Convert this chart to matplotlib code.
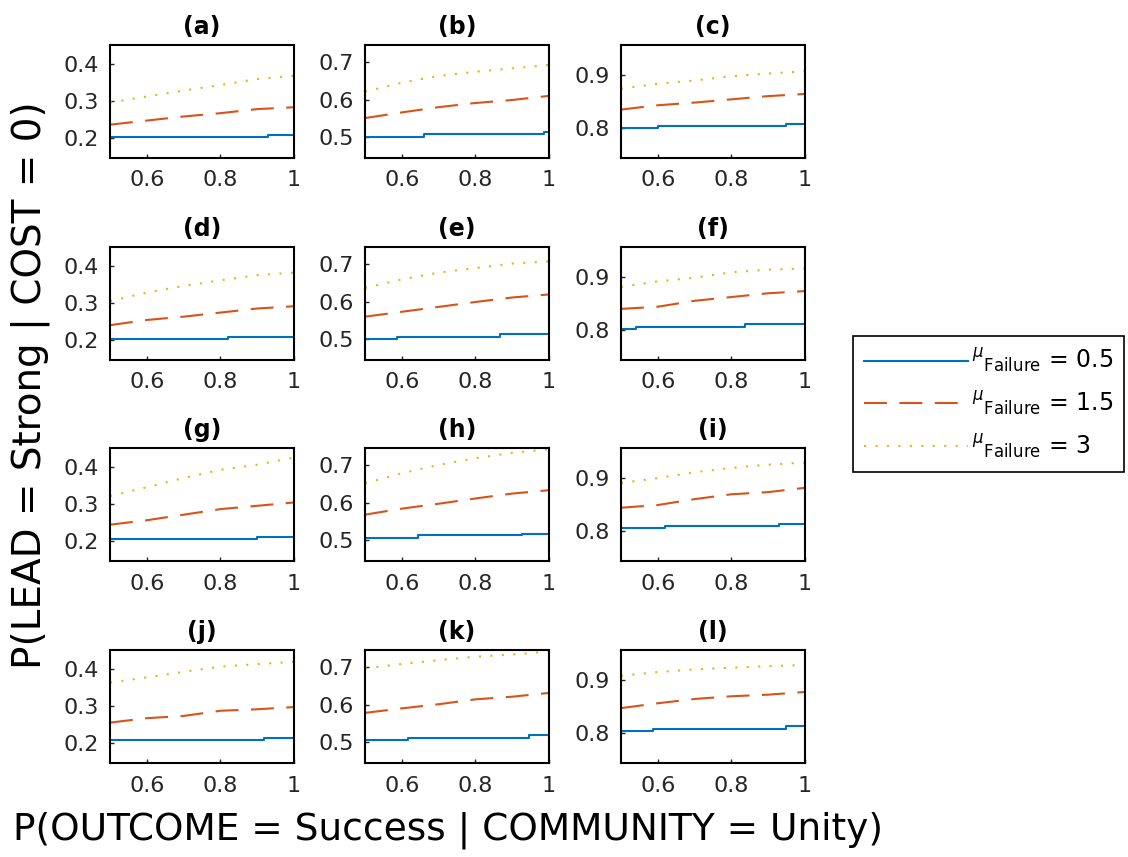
import numpy as np
import matplotlib
matplotlib.use('Agg')
import matplotlib.pyplot as plt

plt.rcParams['font.family'] = 'DejaVu Sans'
plt.rcParams['axes.linewidth'] = 1.5
plt.rcParams['xtick.direction'] = 'in'
plt.rcParams['ytick.direction'] = 'in'
plt.rcParams['xtick.labelsize'] = 16
plt.rcParams['ytick.labelsize'] = 16

panel_titles = ['(a)', '(b)', '(c)', '(d)', '(e)', '(f)',
                '(g)', '(h)', '(i)', '(j)', '(k)', '(l)']

# x grid for the failure=1.5 and failure=3 curves
x_pts = [0.5, 0.6, 0.7, 0.8, 0.9, 1.0]

# mu_failure = 0.5 : step curves (x where level changes, level)
blue_x = [
    [0.5, 0.93, 1.0], [0.5, 0.66, 0.986, 1.0], [0.5, 0.60, 0.948, 1.0],
    [0.5, 0.82, 1.0], [0.5, 0.586, 0.868, 1.0], [0.5, 0.541, 0.837, 1.0],
    [0.5, 0.90, 1.0], [0.5, 0.645, 0.927, 1.0], [0.5, 0.62, 0.928, 1.0],
    [0.5, 0.918, 1.0], [0.5, 0.618, 0.945, 1.0], [0.5, 0.588, 0.948, 1.0],
]
blue_y = [
    [0.202, 0.208, 0.208], [0.502, 0.508, 0.515, 0.515], [0.801, 0.805, 0.809, 0.809],
    [0.202, 0.207, 0.207], [0.502, 0.507, 0.513, 0.513], [0.803, 0.806, 0.811, 0.811],
    [0.205, 0.211, 0.211], [0.507, 0.513, 0.518, 0.518], [0.806, 0.810, 0.814, 0.814],
    [0.206, 0.213, 0.213], [0.505, 0.512, 0.519, 0.519], [0.805, 0.809, 0.813, 0.813],
]

# mu_failure = 1.5
red_y = [
    [0.235, 0.246, 0.257, 0.266, 0.277, 0.282],
    [0.551, 0.566, 0.580, 0.591, 0.599, 0.610],
    [0.835, 0.843, 0.848, 0.854, 0.860, 0.864],
    [0.239, 0.253, 0.262, 0.273, 0.284, 0.290],
    [0.560, 0.573, 0.586, 0.599, 0.611, 0.619],
    [0.840, 0.844, 0.855, 0.862, 0.869, 0.873],
    [0.243, 0.255, 0.270, 0.285, 0.294, 0.303],
    [0.568, 0.584, 0.597, 0.611, 0.624, 0.633],
    [0.844, 0.849, 0.860, 0.869, 0.873, 0.881],
    [0.254, 0.266, 0.272, 0.286, 0.290, 0.296],
    [0.578, 0.590, 0.601, 0.614, 0.621, 0.631],
    [0.847, 0.856, 0.864, 0.869, 0.872, 0.877],
]

# mu_failure = 3
yel_y = [
    [0.295, 0.311, 0.327, 0.342, 0.358, 0.367],
    [0.621, 0.645, 0.663, 0.674, 0.683, 0.692],
    [0.874, 0.883, 0.889, 0.897, 0.902, 0.906],
    [0.304, 0.327, 0.345, 0.360, 0.374, 0.381],
    [0.636, 0.659, 0.677, 0.689, 0.701, 0.707],
    [0.881, 0.891, 0.898, 0.908, 0.913, 0.915],
    [0.320, 0.344, 0.369, 0.391, 0.405, 0.424],
    [0.651, 0.678, 0.700, 0.718, 0.732, 0.742],
    [0.890, 0.899, 0.910, 0.918, 0.924, 0.928],
    [0.362, 0.376, 0.391, 0.405, 0.412, 0.418],
    [0.696, 0.708, 0.718, 0.727, 0.733, 0.741],
    [0.907, 0.914, 0.919, 0.922, 0.925, 0.927],
]

col_ylim = [(0.145, 0.45), (0.445, 0.745), (0.745, 0.955)]
col_yticks = [[0.2, 0.3, 0.4], [0.5, 0.6, 0.7], [0.8, 0.9]]

c_blue = '#0072BD'
c_red = '#D95319'
c_yel = '#EDB120'

W, H = 1128, 857
fig = plt.figure(figsize=(W / 100, H / 100), dpi=100)

lefts = [110, 365, 621]
tops = [45, 247, 448, 650]
aw, ah = 184, 113

handles = None
for i in range(12):
    r, c = divmod(i, 3)
    ax = fig.add_axes([lefts[c] / W, 1 - (tops[r] + ah) / H, aw / W, ah / H])
    h1, = ax.step(blue_x[i], blue_y[i], where='post', color=c_blue, lw=1.5)
    h2, = ax.plot(x_pts, red_y[i], color=c_red, lw=1.5, dashes=(11, 6))
    h3, = ax.plot(x_pts, yel_y[i], color=c_yel, lw=1.5, dashes=(1, 4.5))
    handles = [h1, h2, h3]
    ax.set_xlim(0.5, 1)
    ax.set_ylim(*col_ylim[c])
    ax.set_xticks([0.6, 0.8, 1.0])
    ax.set_xticklabels(['0.6', '0.8', '1'])
    ax.set_yticks(col_yticks[c])
    ax.set_yticklabels([str(v) for v in col_yticks[c]])
    ax.tick_params(length=3, width=1, colors='#262626')
    ax.tick_params(axis='x', pad=9)
    ax.tick_params(axis='y', pad=8)
    ax.set_title(panel_titles[i], fontsize=17, fontweight='bold', pad=8)

labels = [r'$^{\mu}$$_{\mathrm{Failure}}$ = 0.5',
          r'$^{\mu}$$_{\mathrm{Failure}}$ = 1.5',
          r'$^{\mu}$$_{\mathrm{Failure}}$ = 3']
leg = fig.legend(handles, labels, loc='center left',
                 bbox_to_anchor=(853 / W, 1 - 404 / H), fontsize=17,
                 handlelength=4.4, fancybox=False, edgecolor='black',
                 framealpha=1, borderpad=0.45, labelspacing=0.62, handletextpad=0.2,
                 borderaxespad=0)
leg.get_frame().set_linewidth(1.2)

fig.text(30 / W, 1 - 385 / H, 'P(LEAD = Strong | COST = 0)', rotation=90,
         ha='center', va='center', fontsize=28)
fig.text(448 / W, 1 - 830 / H, 'P(OUTCOME = Success | COMMUNITY = Unity)',
         ha='center', va='center', fontsize=27)

fig.savefig('out.png', dpi=100)
